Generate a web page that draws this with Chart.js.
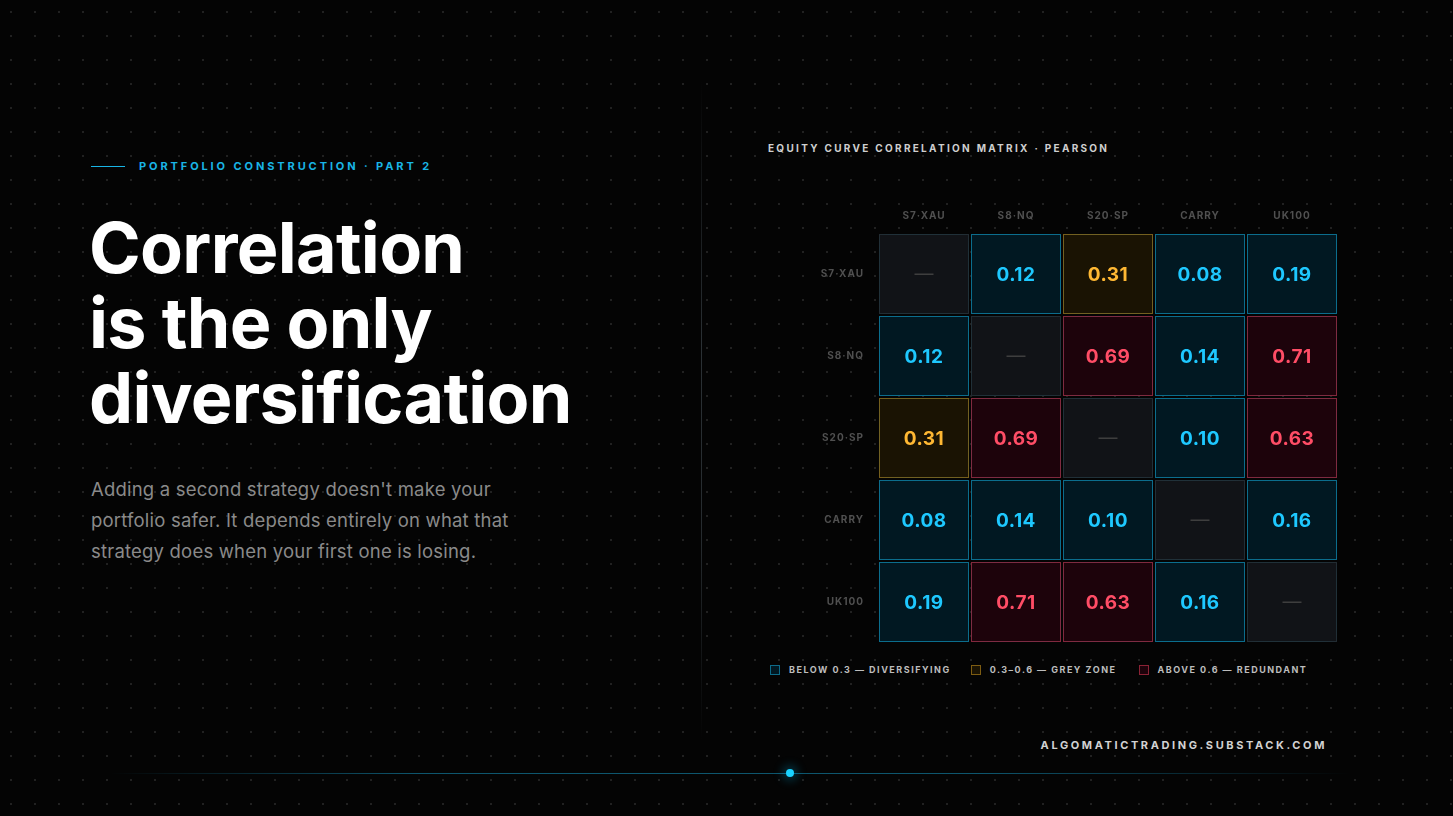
<!DOCTYPE html>
<html>
<head>
<meta charset="utf-8">
<script src="https://cdn.jsdelivr.net/npm/chart.js@4.4.1/dist/chart.umd.min.js"></script>
<style>
  html, body { margin: 0; padding: 0; }
  body {
    width: 1453px; height: 816px; overflow: hidden; position: relative;
    background-color: #040404;
    background-image: radial-gradient(circle, #212121 0.9px, transparent 1.3px);
    background-size: 24px 24px;
    background-position: -1px 0;
    font-family: Inter, "Noto Sans", sans-serif;
  }
  .eyebrow { position: absolute; left: 91px; top: 158px; height: 16px; display: flex; align-items: center; }
  .eyebrow .rule { width: 34px; height: 1px; background: #19b5e6; margin-right: 14px; }
  .eyebrow span { color: #19b5e6; font-size: 11px; font-weight: 700; letter-spacing: 2.9px; }
  h1 {
    position: absolute; left: 89px; top: 210px; margin: 0;
    color: #fff; font-size: 70px; line-height: 75px; font-weight: 700; letter-spacing: -0.7px;
  }
  .lead {
    position: absolute; left: 91px; top: 474px; width: 460px; margin: 0;
    color: #8a8a8a; font-size: 18.5px; line-height: 31px; letter-spacing: 0.2px;
  }
  .divider {
    position: absolute; left: 701px; top: 80px; width: 1px; height: 660px;
    background: linear-gradient(to bottom, rgba(40,120,140,0), rgba(100,115,125,0.4) 40%, rgba(100,115,125,0.35) 70%, rgba(40,120,140,0));
  }
  .head { position: absolute; left: 768px; top: 142px; color: #cfcfcf; font-size: 10px; font-weight: 700; letter-spacing: 2.3px; }
  #wrap { position: absolute; left: 770px; top: 190px; width: 580px; height: 470px; }
  #wrap canvas { display: block; }
  .legend { position: absolute; left: 770px; top: 664px; display: flex; }
  .legend div { display: flex; align-items: center; color: #bdbdbd; font-size: 9px; font-weight: 700; letter-spacing: 1.5px; }
  .legend i { display: inline-block; width: 8px; height: 8px; margin-right: 9px; border: 1px solid; }
  .foot { position: absolute; right: 126px; top: 738px; color: #d2d2d2; font-size: 11px; font-weight: 700; letter-spacing: 2.6px; }
  .baseline {
    position: absolute; left: 110px; top: 773px; width: 1240px; height: 1px;
    background: linear-gradient(to right, rgba(20,140,180,0), rgba(20,140,180,0.6) 25%, rgba(20,140,180,0.6) 70%, rgba(20,140,180,0));
  }
  .dot {
    position: absolute; left: 786px; top: 769px; width: 8px; height: 8px; border-radius: 50%;
    background: #1ad2ff; box-shadow: 0 0 10px 4px rgba(0,180,230,0.25);
  }
</style>
</head>
<body>
<div class="eyebrow"><div class="rule"></div><span>PORTFOLIO CONSTRUCTION · PART 2</span></div>
<h1>Correlation<br>is the only<br>diversification</h1>
<p class="lead">Adding a second strategy doesn't make your portfolio safer. It depends entirely on what that strategy does when your first one is losing.</p>
<div class="divider"></div>
<div class="head">EQUITY CURVE CORRELATION MATRIX · PEARSON</div>
<div id="wrap"><canvas id="matrix"></canvas></div>
<div class="legend" id="legend"></div>
<div class="foot">ALGOMATICTRADING.SUBSTACK.COM</div>
<div class="baseline"></div>
<div class="dot"></div>

<script>
// DATA
const strategies = ['S7·XAU', 'S8·NQ', 'S20·SP', 'CARRY', 'UK100']
const rowS7  = [null, 0.12, 0.31, 0.08, 0.19]
const rowS8  = [0.12, null, 0.69, 0.14, 0.71]
const rowS20 = [0.31, 0.69, null, 0.10, 0.63]
const rowCarry = [0.08, 0.14, 0.10, null, 0.16]
const rowUK  = [0.19, 0.71, 0.63, 0.16, null]
const rows = [rowS7, rowS8, rowS20, rowCarry, rowUK]

const legendLabels = ['BELOW 0.3 — DIVERSIFYING', '0.3–0.6 — GREY ZONE', 'ABOVE 0.6 — REDUNDANT']

// colour buckets
const BLUE  = { fill: '#011822', border: '#0d6a88', text: '#1ec8ff' }
const AMBER = { fill: '#1a1303', border: '#7d5c12', text: '#ffb833' }
const RED   = { fill: '#1d030b', border: '#8a2235', text: '#ff4d66' }
const DIAG  = { fill: '#111317', border: '#24272b', text: '#3e3e3e' }

function bucket(v) {
  if (v === null) return DIAG
  if (v < 0.3) return BLUE
  if (v < 0.6) return AMBER
  return RED
}

// legend
const legendEl = document.getElementById('legend')
const legendStyles = [BLUE, AMBER, RED]
const legendGaps = [20, 22, 0]
legendLabels.forEach((txt, i) => {
  const d = document.createElement('div')
  d.style.marginRight = legendGaps[i] + 'px'
  d.innerHTML = `<i style="border-color:${legendStyles[i].border};background:${legendStyles[i].fill}"></i>${txt}`
  legendEl.appendChild(d)
})

const HALF = 40 / 82  // half cell height in row units

// one dataset per row, floating bars over the columns
const datasets = rows.map((row, r) => ({
  label: strategies[r],
  data: row.map(() => [r - HALF, r + HALF]),
  corr: row,
  grouped: false,
  clip: false,
  categoryPercentage: 1,
  barPercentage: 90 / 92,
  borderWidth: 1,
  borderSkipped: false,
  backgroundColor: ctx => bucket(row[ctx.dataIndex]).fill,
  borderColor: ctx => bucket(row[ctx.dataIndex]).border,
}))

// soft glow under the cells
const glowPlugin = {
  id: 'glow',
  beforeDatasetsDraw(chart) {
    const ctx = chart.ctx
    ctx.save()
    ctx.shadowColor = 'rgba(0,150,200,0.2)'
    ctx.shadowBlur = 16
  },
  afterDatasetsDraw(chart) {
    chart.ctx.restore()
  }
}

// values in the cells
const valuePlugin = {
  id: 'values',
  afterDatasetsDraw(chart) {
    const ctx = chart.ctx
    ctx.save()
    ctx.textAlign = 'center'
    ctx.textBaseline = 'middle'
    chart.data.datasets.forEach((ds, r) => {
      const meta = chart.getDatasetMeta(r)
      meta.data.forEach((el, c) => {
        const v = ds.corr[c]
        const y = (el.y + el.base) / 2
        ctx.fillStyle = bucket(v).text
        if (v === null) {
          ctx.letterSpacing = '0px'
          ctx.font = '400 19px Inter'
          ctx.fillText('—', el.x, y)
        } else {
          ctx.letterSpacing = '0.5px'
          ctx.font = '700 19px Inter'
          ctx.fillText(v.toFixed(2), el.x, y + 1)
        }
      })
    })
    ctx.restore()
  }
}

const spacingPlugin = {
  id: 'spacing',
  beforeDraw(chart) { chart.ctx.letterSpacing = '1px' }
}

new Chart(document.getElementById('matrix'), {
  type: 'bar',
  data: { labels: strategies, datasets: datasets },
  options: {
    responsive: true,
    maintainAspectRatio: false,
    animation: false,
    layout: { padding: { top: 0, right: 12, bottom: 17, left: 0 } },
    plugins: { legend: { display: false }, tooltip: { enabled: false } },
    scales: {
      x: {
        type: 'category',
        position: 'top',
        grid: { display: false, drawTicks: false },
        border: { display: false },
        ticks: { color: '#505050', padding: 11, font: { family: 'Inter', size: 10, weight: '700' } },
        afterFit(scale) { scale.height = 43 }
      },
      y: {
        type: 'linear',
        reverse: true,
        min: -0.5,
        max: 4.5,
        grid: { display: false, drawTicks: false },
        border: { display: false },
        afterBuildTicks(scale) { scale.ticks = strategies.map((s, i) => ({ value: i })) },
        ticks: {
          color: '#505050', padding: 14,
          font: { family: 'Inter', size: 10, weight: '700' },
          callback: v => strategies[v]
        },
        afterFit(scale) {
          scale.width = 108
          scale.paddingTop = 0
          scale.paddingBottom = 0
        }
      }
    }
  },
  plugins: [spacingPlugin, glowPlugin, valuePlugin]
})
</script>
</body>
</html>
